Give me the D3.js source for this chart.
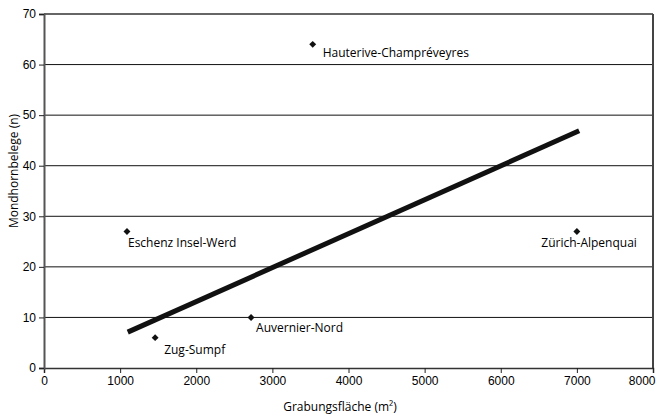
<!DOCTYPE html>
<html>
<head>
<meta charset="utf-8">
<script src="https://cdn.jsdelivr.net/npm/d3@7"></script>
<style>
  body { margin: 0; background: #fff; }
  svg { display: block; font-family: "Open Sans", sans-serif; }
  .tick text { font-size: 12px; fill: #000; }
</style>
</head>
<body>
<svg id="chart" width="656" height="417"></svg>
<script>
// sites, excavated area (m2) and number of Mondhorn finds
const sites = ['Hauterive-Champréveyres', 'Eschenz Insel-Werd', 'Zug-Sumpf', 'Auvernier-Nord', 'Zürich-Alpenquai'];
const area = [3530, 1090, 1460, 2720, 7000];
const finds = [64, 27, 6, 10, 27];

// trend line endpoints
const trendX = [1100, 7030];
const trendY = [7.1, 46.9];

const xTicks = [0, 1000, 2000, 3000, 4000, 5000, 6000, 7000, 8000];
const yTicks = [0, 10, 20, 30, 40, 50, 60, 70];

// label placement relative to the marker
const labelPos = {
  'Hauterive-Champréveyres': { dx: 10, dy: 13, anchor: 'start' },
  'Eschenz Insel-Werd': { dx: 1, dy: 16, anchor: 'start' },
  'Zug-Sumpf': { dx: 9, dy: 16, anchor: 'start' },
  'Auvernier-Nord': { dx: 5, dy: 15, anchor: 'start' },
  'Zürich-Alpenquai': { dx: 60, dy: 16, anchor: 'end' }
};

const svg = d3.select('#chart');
const margin = { top: 14, right: 3, bottom: 49, left: 44 };
const width = 656 - margin.left - margin.right;
const height = 417 - margin.top - margin.bottom;

const x = d3.scaleLinear().domain([0, 8000]).range([0, width]);
const y = d3.scaleLinear().domain([0, 70]).range([height, 0]);

const g = svg.append('g').attr('transform', `translate(${margin.left},${margin.top})`);

// horizontal grid
g.append('g')
  .selectAll('line')
  .data(yTicks.filter(d => d > 0 && d < 70))
  .join('line')
  .attr('x1', 0).attr('x2', width)
  .attr('y1', d => y(d)).attr('y2', d => y(d))
  .attr('stroke', '#111').attr('stroke-width', 1);

// frame top + right
g.append('line').attr('x1', 0).attr('x2', width).attr('y1', y(70)).attr('y2', y(70))
  .attr('stroke', '#333').attr('stroke-width', 1.5);
g.append('line').attr('x1', width).attr('x2', width).attr('y1', 0).attr('y2', height)
  .attr('stroke', '#444').attr('stroke-width', 2);

// axes
const xAxis = g.append('g')
  .attr('transform', `translate(0,${height})`)
  .call(d3.axisBottom(x).tickValues(xTicks).tickSize(5).tickPadding(3).tickFormat(d3.format('d')));
const yAxis = g.append('g')
  .call(d3.axisLeft(y).tickValues(yTicks).tickSize(5).tickPadding(3).tickFormat(d3.format('d')));

xAxis.select('.domain').attr('stroke', '#333').attr('stroke-width', 1.5);
yAxis.select('.domain').attr('stroke', '#555').attr('stroke-width', 2);
xAxis.selectAll('.tick line').attr('stroke', '#222');
yAxis.selectAll('.tick line').attr('stroke', '#222');
// last x label sits inside the frame
xAxis.selectAll('.tick text').filter(d => d === 8000)
  .attr('text-anchor', 'end').attr('dx', 2);

// trend line
const trend = trendX.map((d, i) => [d, trendY[i]]);
g.append('path')
  .datum(trend)
  .attr('d', d3.line().x(d => x(d[0])).y(d => y(d[1])))
  .attr('stroke', '#111')
  .attr('stroke-width', 5)
  .attr('fill', 'none');

// points
const points = sites.map((s, i) => ({ site: s, area: area[i], finds: finds[i] }));
const pt = g.append('g').selectAll('g')
  .data(points)
  .join('g')
  .attr('transform', d => `translate(${x(d.area)},${y(d.finds)})`);

pt.append('path')
  .attr('d', d3.symbol().type(d3.symbolSquare).size(24))
  .attr('transform', 'rotate(45)')
  .attr('fill', '#111');

pt.append('text')
  .attr('x', d => labelPos[d.site].dx)
  .attr('y', d => labelPos[d.site].dy)
  .attr('text-anchor', d => labelPos[d.site].anchor)
  .attr('font-size', 12)
  .attr('fill', '#000')
  .text(d => d.site);

// axis titles
svg.append('text')
  .attr('x', 340).attr('y', 411)
  .attr('text-anchor', 'middle')
  .attr('font-size', 12)
  .attr('fill', '#000')
  .text('Grabungsfläche (m²)');

svg.append('text')
  .attr('transform', 'translate(18,171) rotate(-90)')
  .attr('text-anchor', 'middle')
  .attr('font-size', 12)
  .attr('fill', '#000')
  .text('Mondhornbelege (n)');
</script>
</body>
</html>
